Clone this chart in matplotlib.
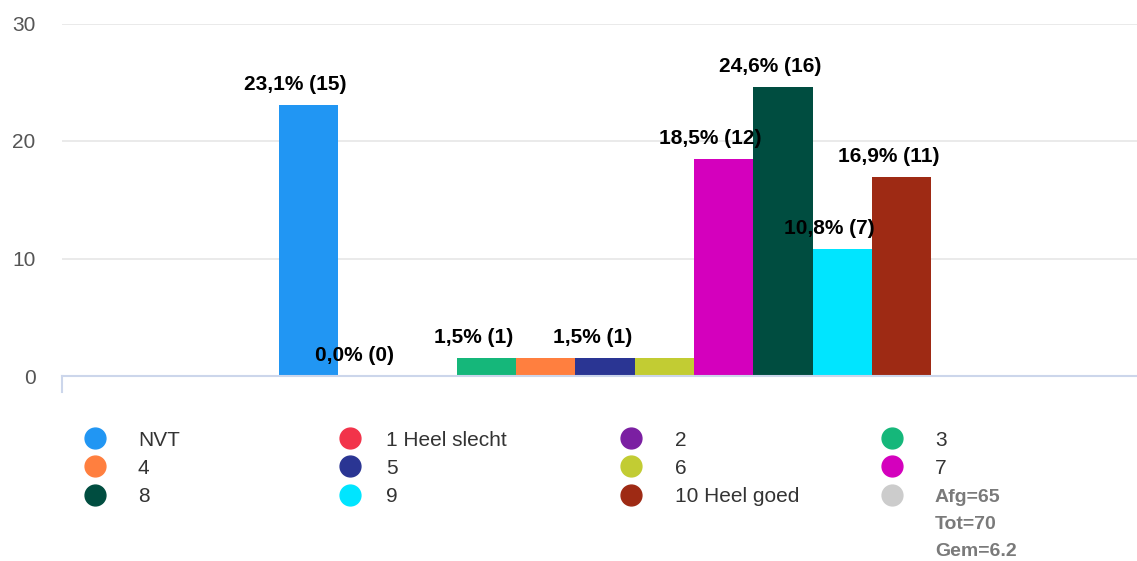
"""
Staafdiagram van de scores (NVT, 1..10) met percentage en aantal boven de staven.
"""
import matplotlib
matplotlib.use("Agg")
import matplotlib.pyplot as plt

# Gegevens
categorieen = ["NVT", "1 Heel slecht", "2", "3", "4", "5", "6", "7", "8", "9", "10 Heel goed"]
aantallen = [15, 0, 0, 1, 1, 1, 1, 12, 16, 7, 11]
kleuren = ["#2196F3", "#F2334A", "#7B1FA2", "#15B77A", "#FF7F3F", "#2A3593",
           "#C2CC33", "#D400BD", "#004D40", "#00E5FF", "#9E2A14"]
# labels die in het origineel zichtbaar zijn (overlappende zijn verborgen)
label_zichtbaar = [True, True, False, True, False, True, False, True, True, True, True]
afgerond = 65
totaal = 70
gemiddelde = 6.2
y_ticks = [0, 10, 20, 30]


def main():
    plt.rcParams['font.family'] = ['Liberation Sans', 'DejaVu Sans']

    W, H = 1137, 561
    fig = plt.figure(figsize=(W / 100, H / 100), dpi=100)
    ax = fig.add_axes([62 / W, 185 / H, 1075 / W, 352.5 / H])

    percentages = [a / afgerond * 100 for a in aantallen]
    x = list(range(len(categorieen)))
    ax.bar(x, percentages, width=1.0, color=kleuren, zorder=2)

    # Labels boven de staven
    for i in x:
        if not label_zichtbaar[i]:
            continue
        tekst = f"{percentages[i]:.1f}".replace(".", ",") + f"% ({aantallen[i]})"
        ax.annotate(tekst, xy=(i, percentages[i]), xytext=(-13, 15),
                    textcoords='offset pixels', ha='center', va='baseline',
                    fontsize=15, fontweight='bold', color='black', zorder=3)

    # Assen
    ax.set_xlim(-4.16, 13.97)
    ax.set_ylim(0, 30)
    ax.set_yticks(y_ticks)
    ax.set_xticks([])
    ax.tick_params(axis='y', length=0, pad=19, labelsize=15, labelcolor='#555555')
    ax.grid(axis='y', color='#e6e6e6', linewidth=1.2, zorder=0)
    for s in ['top', 'right', 'left']:
        ax.spines[s].set_visible(False)
    ax.spines['bottom'].set_color('#ccd6eb')
    ax.spines['bottom'].set_linewidth(1.5)
    ax.spines['bottom'].set_zorder(3)
    ax.plot([0, 0], [0, -16 / 352.5], transform=ax.transAxes, color='#ccd6eb',
            linewidth=1.5, clip_on=False)

    # Legenda handmatig plaatsen
    kol_marker = [95, 350, 631, 892]
    kol_tekst = [138, 386, 675, 935]
    rij_y = [438, 466, 495]
    for i, naam in enumerate(categorieen):
        r, k = divmod(i, 4)
        fig.lines.append(plt.Line2D([kol_marker[k] / W], [1 - rij_y[r] / H],
                                    transform=fig.transFigure, marker='o', markersize=15,
                                    color=kleuren[i], linestyle='none'))
        fig.text(kol_tekst[k] / W, 1 - rij_y[r] / H, naam, ha='left', va='center_baseline',
                 fontsize=15, color='#333333')
    # grijze statistiek-regel
    fig.lines.append(plt.Line2D([kol_marker[3] / W], [1 - rij_y[2] / H],
                                transform=fig.transFigure, marker='o', markersize=15,
                                color='#cccccc', linestyle='none'))
    stats = [f"Afg={afgerond}", f"Tot={totaal}", f"Gem={gemiddelde}"]
    for j, s in enumerate(stats):
        fig.text(kol_tekst[3] / W, 1 - (rij_y[2] + j * 27.5) / H, s, ha='left',
                 va='center_baseline', fontsize=14, fontweight='bold', color='#7a7a7a')

    fig.savefig("out.png", dpi=100)


if __name__ == "__main__":
    main()
